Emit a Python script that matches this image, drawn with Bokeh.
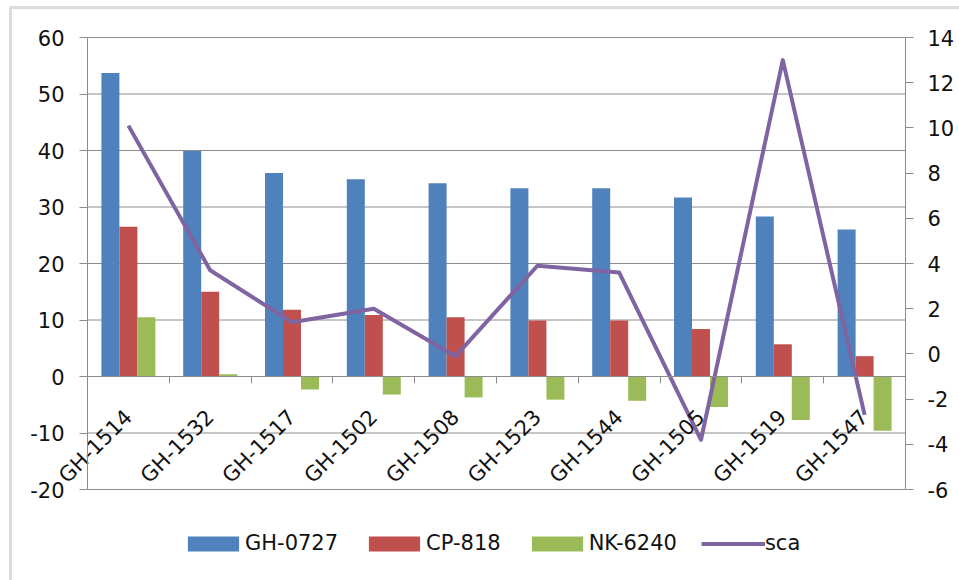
import math
from bokeh.plotting import figure
from bokeh.models import Range1d, LinearAxis, FixedTicker, Legend, LegendItem, BoxAnnotation
from bokeh.embed import file_html
from bokeh.resources import INLINE

categories = ["GH-1514", "GH-1532", "GH-1517", "GH-1502", "GH-1508",
              "GH-1523", "GH-1544", "GH-1505", "GH-1519", "GH-1547"]
gh0727 = [53.7, 39.9, 36.0, 34.9, 34.2, 33.3, 33.3, 31.7, 28.3, 26.0]
cp818 = [26.5, 15.0, 11.8, 10.9, 10.5, 9.9, 9.9, 8.4, 5.7, 3.6]
nk6240 = [10.5, 0.4, -2.3, -3.2, -3.7, -4.1, -4.3, -5.4, -7.7, -9.6]
sca = [10.1, 3.7, 1.4, 2.0, -0.1, 3.9, 3.6, -3.8, 13.0, -2.7]
left_ticks = [-20, -10, 0, 10, 20, 30, 40, 50, 60]
right_ticks = [-6, -4, -2, 0, 2, 4, 6, 8, 10, 12, 14]

FONT = "DejaVu Sans"
GRAY = "#8c8c8c"
TXT = "#111111"

# page geometry (pixels): the frame covers the whole canvas, the value band sits inside it
W, H = 959, 580
TOP, LEFT = 37, 87
PLOT_W, PLOT_H = 818, 452

n = len(categories)
l_lo, l_hi = left_ticks[0], left_ticks[-1]
r_lo, r_hi = right_ticks[0], right_ticks[-1]
ppx = PLOT_W / n
ppl = PLOT_H / (l_hi - l_lo)
ppr = PLOT_H / (r_hi - r_lo)
below = H - TOP - PLOT_H

p = figure(width=W, height=H, output_backend="svg", toolbar_location=None,
           x_range=Range1d(-LEFT / ppx, n + (W - LEFT - PLOT_W) / ppx),
           y_range=Range1d(l_lo - below / ppl, l_hi + TOP / ppl),
           min_border=0)
p.outline_line_color = None
p.background_fill_color = "white"
p.border_fill_color = "white"
p.extra_y_ranges = {"right": Range1d(r_lo - below / ppr, r_hi + TOP / ppr)}
p.xaxis.visible = False
p.yaxis.visible = False
p.xgrid.visible = False
p.ygrid.visible = False

# horizontal gridlines at the left-axis ticks, spanning the category band
p.segment(x0=0, x1=n, y0=left_ticks, y1=left_ticks, line_color=GRAY, line_width=1)

xs = [i + 0.5 for i in range(n)]
bw = 0.22

r1 = p.vbar(x=[x - bw for x in xs], top=gh0727, bottom=0, width=bw, fill_color="#4F81BD", line_color=None)
r2 = p.vbar(x=xs, top=cp818, bottom=0, width=bw, fill_color="#C0504D", line_color=None)
r3 = p.vbar(x=[x + bw for x in xs], top=nk6240, bottom=0, width=bw, fill_color="#9BBB59", line_color=None)
r4 = p.line(x=xs, y=sca, y_range_name="right", line_color="#8064A2", line_width=4, line_join="round")


def style_value_axis(ax, ticks, standoff):
    ax.ticker = FixedTicker(ticks=ticks)
    ax.bounds = (ticks[0], ticks[-1])
    ax.major_label_overrides = {t: str(t) for t in ticks}
    ax.axis_line_color = GRAY
    ax.major_tick_line_color = GRAY
    ax.major_tick_in = 0
    ax.major_tick_out = 8
    ax.minor_tick_line_color = None
    ax.major_label_standoff = standoff
    ax.major_label_text_font = FONT
    ax.major_label_text_font_size = "21px"
    ax.major_label_text_color = TXT


la = LinearAxis(fixed_location=0)
style_value_axis(la, left_ticks, 15)
p.add_layout(la, "left")

ra = LinearAxis(fixed_location=n, y_range_name="right")
style_value_axis(ra, right_ticks, 14)
p.add_layout(ra, "right")

# category axis sitting on the zero line
xa = LinearAxis(fixed_location=0,
                ticker=FixedTicker(ticks=xs, minor_ticks=list(range(n + 1))))
xa.bounds = (0, n)
xa.major_label_overrides = {x: c for x, c in zip(xs, categories)}
xa.major_label_orientation = math.pi / 4
xa.axis_line_color = GRAY
xa.minor_tick_line_color = GRAY
xa.minor_tick_in = 0
xa.minor_tick_out = 7
xa.major_tick_line_color = None
xa.major_tick_in = 0
xa.major_tick_out = 0
xa.major_label_standoff = 30
xa.major_label_text_font = FONT
xa.major_label_text_font_size = "21px"
xa.major_label_text_color = TXT
p.add_layout(xa, "below")

legend = Legend(items=[LegendItem(label="GH-0727", renderers=[r1]),
                       LegendItem(label="CP-818", renderers=[r2]),
                       LegendItem(label="NK-6240", renderers=[r3]),
                       LegendItem(label="sca", renderers=[r4])],
                orientation="horizontal", location=(181, 25))
legend.glyph_width = 64
legend.glyph_height = 19
legend.label_standoff = 0
legend.spacing = 24
legend.padding = 0
legend.margin = 0
legend.border_line_color = None
legend.background_fill_alpha = 0
legend.label_text_font = FONT
legend.label_text_font_size = "21px"
legend.label_text_color = TXT
p.add_layout(legend, "center")

# outer chart-area border (left and top edges visible in the window)
border = BoxAnnotation(left=10, right=W + 20, bottom=-20, top=H - 7,
                       left_units="screen", right_units="screen",
                       bottom_units="screen", top_units="screen",
                       fill_alpha=0, line_color="#888888", line_width=3, level="overlay")
p.add_layout(border)

open("out.html", "w").write(file_html(p, INLINE))
